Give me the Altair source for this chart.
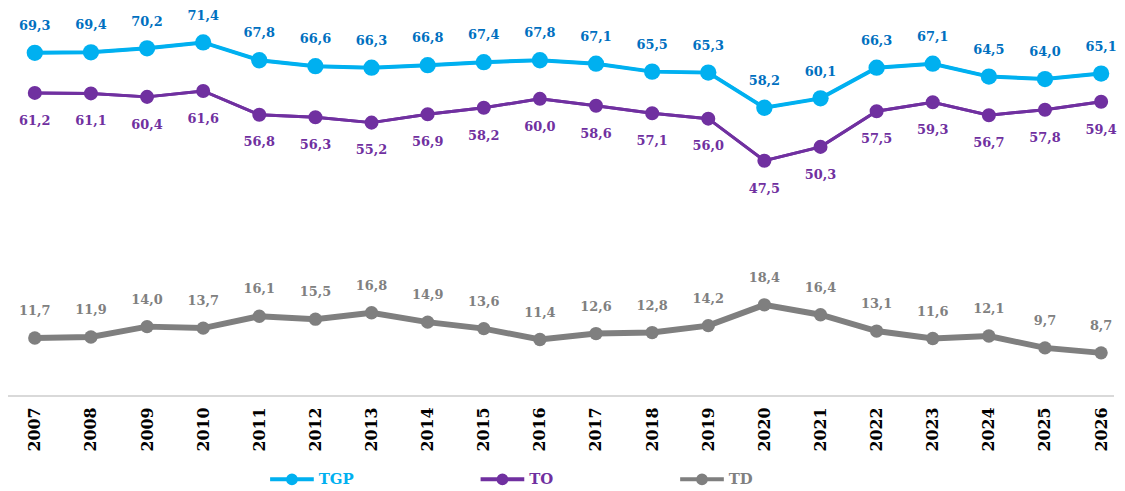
import altair as alt
import pandas as pd

years = [str(y) for y in range(2007, 2027)]
tgp = [69.3, 69.4, 70.2, 71.4, 67.8, 66.6, 66.3, 66.8, 67.4, 67.8, 67.1, 65.5, 65.3, 58.2, 60.1, 66.3, 67.1, 64.5, 64.0, 65.1]
to = [61.2, 61.1, 60.4, 61.6, 56.8, 56.3, 55.2, 56.9, 58.2, 60.0, 58.6, 57.1, 56.0, 47.5, 50.3, 57.5, 59.3, 56.7, 57.8, 59.4]
td = [11.7, 11.9, 14.0, 13.7, 16.1, 15.5, 16.8, 14.9, 13.6, 11.4, 12.6, 12.8, 14.2, 18.4, 16.4, 13.1, 11.6, 12.1, 9.7, 8.7]
series = ["TGP", "TO", "TD"]

rows = []
for name, vals in zip(series, [tgp, to, td]):
    for y, v in zip(years, vals):
        rows.append({"year": y, "serie": name, "value": v,
                     "label": f"{v:.1f}".replace(".", ",")})
df = pd.DataFrame(rows)

line_colors = {"TGP": "#00B0F0", "TO": "#7030A0", "TD": "#7F7F7F"}
label_colors = {"TGP": "#0070C0", "TO": "#7030A0", "TD": "#808080"}
line_widths = {"TGP": 4, "TO": 3, "TD": 6}
point_sizes = {"TGP": 270, "TO": 200, "TD": 180}
label_dy = {"TGP": -27, "TO": 28, "TD": -27}
FONT = "DejaVu Serif"

W, H = 1117, 389
xscale = alt.Scale(type="point", domain=years, range=[27, 1101], padding=0)
yscale = alt.Scale(domain=[0, 78], nice=False, zero=True)
X = alt.X("year:O", scale=xscale,
          axis=alt.Axis(title=None, labelAngle=-90, domain=False, ticks=False,
                        labelFont=FONT, labelFontWeight="bold", labelFontSize=16,
                        labelColor="#000000", labelPadding=11, grid=False))
Y = alt.Y("value:Q", scale=yscale, axis=None)

sym_path = "M-1,0L1,0M-0.18,0A0.18,0.18,0,1,1,0.18,0A0.18,0.18,0,1,1,-0.18,0Z"

base = alt.Chart(df)

axis_rule = alt.Chart(pd.DataFrame({"v": [0]})).mark_rule(color="#D9D9D9", strokeWidth=2).encode(
    y=alt.Y("v:Q", scale=yscale, axis=None),
    x=alt.value(-2),
    x2=alt.value(1114),
)

legend_lines = base.mark_line(strokeWidth=3).encode(
    x=X, y=Y,
    color=alt.Color("serie:N",
                    scale=alt.Scale(domain=series, range=[line_colors[s] for s in series]),
                    legend=alt.Legend(title=None, orient="none", direction="horizontal",
                                      columns=3, legendX=262, legendY=449,
                                      symbolType=sym_path, symbolSize=1936,
                                      symbolStrokeWidth=4, columnPadding=119,
                                      labelFont=FONT, labelFontWeight="bold",
                                      labelFontSize=15, labelOffset=3, padding=0,
                                      labelColor={"expr": "datum.value == 'TGP' ? '#00B0F0' : datum.value == 'TO' ? '#7030A0' : '#808080'"})),
)

layers = [axis_rule, legend_lines]
for name in series:
    sub = base.transform_filter(alt.datum.serie == name)
    layers.append(sub.mark_line(strokeWidth=line_widths[name], color=line_colors[name]).encode(x=X, y=Y))
for name in series:
    sub = base.transform_filter(alt.datum.serie == name)
    layers.append(sub.mark_circle(opacity=1, size=point_sizes[name], color=line_colors[name]).encode(x=X, y=Y))
for name in series:
    sub = base.transform_filter(alt.datum.serie == name)
    layers.append(sub.mark_text(font=FONT, fontWeight="bold", fontSize=13, dy=label_dy[name],
                                color=label_colors[name], baseline="middle", align="center"
                                ).encode(x=X, y=Y, text="label:N"))

chart = alt.layer(*layers).properties(
    width=W, height=H,
    autosize=alt.AutoSizeParams(type="none"),
    padding={"left": 0, "top": 0, "right": 0, "bottom": 92},
).configure_view(stroke=None).configure_legend(
    labelFont=FONT, labelFontWeight="bold", labelFontSize=15
)

chart.save("out.html", embed_options={"renderer": "svg", "actions": False})
